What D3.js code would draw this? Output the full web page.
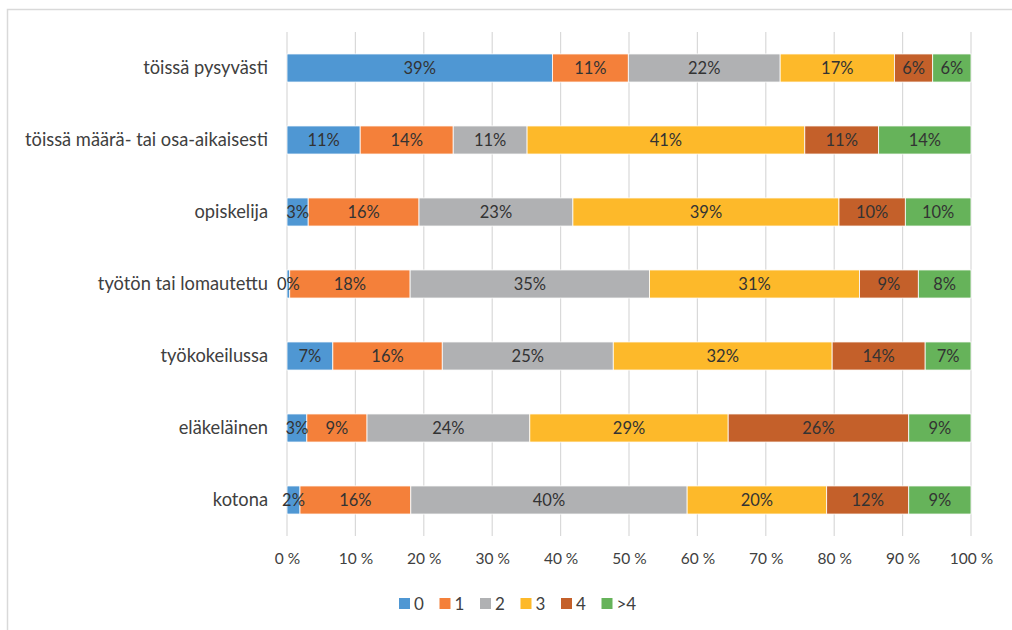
<!DOCTYPE html>
<html>
<head>
<meta charset="utf-8">
<script src="https://cdn.jsdelivr.net/npm/d3@7"></script>
<style>
  body { margin: 0; background: #fff; }
  svg text { font-family: Lato, "Open Sans", sans-serif; fill: #404040; }
</style>
</head>
<body>
<svg id="chart" width="1012" height="630"></svg>
<script>
// categories top -> bottom
const categories = [
  "töissä pysyvästi",
  "töissä määrä- tai osa-aikaisesti",
  "opiskelija",
  "työtön tai lomautettu",
  "työkokeilussa",
  "eläkeläinen",
  "kotona"
];
const seriesNames = ["0", "1", "2", "3", "4", ">4"];
const colors = ["#4f97d3", "#f4803a", "#b0b1b3", "#fdb92a", "#c4602a", "#66b35a"];

// shares per series, same order as categories
const s0 = [0.388, 0.107, 0.031, 0.004, 0.067, 0.029, 0.019];
const s1 = [0.111, 0.136, 0.162, 0.176, 0.160, 0.088, 0.162];
const s2 = [0.222, 0.108, 0.225, 0.350, 0.250, 0.238, 0.404];
const s3 = [0.167, 0.406, 0.389, 0.307, 0.320, 0.290, 0.204];
const s4 = [0.056, 0.108, 0.097, 0.086, 0.136, 0.264, 0.120];
const s5 = [0.056, 0.135, 0.096, 0.077, 0.067, 0.091, 0.091];
const seriesValues = [s0, s1, s2, s3, s4, s5];
const tickValues = [0, 0.1, 0.2, 0.3, 0.4, 0.5, 0.6, 0.7, 0.8, 0.9, 1];

const svg = d3.select("#chart");
const margin = {left: 287, right: 41, top: 32, bottom: 94};
const W = 1012, H = 630;

// outer frame
svg.append("rect")
  .attr("x", 7.5).attr("y", 9.5)
  .attr("width", W + 10).attr("height", H + 10)
  .attr("fill", "none").attr("stroke", "#d9d9d9").attr("stroke-width", 1.5);

const x = d3.scaleLinear().domain([0, 1]).range([margin.left, W - margin.right]);
const y = d3.scaleBand().domain(categories).range([margin.top, H - margin.bottom]).paddingInner(0.61).paddingOuter(0.305);

// gridlines
svg.append("g").selectAll("line").data(tickValues).join("line")
  .attr("x1", d => x(d)).attr("x2", d => x(d))
  .attr("y1", margin.top).attr("y2", H - margin.bottom)
  .attr("stroke", "#d9d9d9").attr("stroke-width", 1.2);

// stack data
const rows = categories.map((c, i) => {
  const r = {cat: c};
  seriesNames.forEach((s, j) => r[s] = seriesValues[j][i]);
  return r;
});
const stacked = d3.stack().keys(seriesNames)(rows);

svg.append("g").selectAll("g").data(stacked).join("g")
  .attr("fill", (d, i) => colors[i])
  .selectAll("rect").data(d => d).join("rect")
  .attr("x", d => x(d[0]))
  .attr("y", d => y(d.data.cat))
  .attr("width", d => x(d[1]) - x(d[0]))
  .attr("height", y.bandwidth())
  .attr("stroke", "#fff").attr("stroke-width", 0.8);

// value labels on top of all bars
svg.append("g").selectAll("g").data(stacked).join("g")
  .selectAll("text").data(d => d.map(p => ({p: p, key: d.key}))).join("text")
  .attr("x", d => (x(d.p[0]) + x(d.p[1])) / 2)
  .attr("y", d => y(d.p.data.cat) + y.bandwidth() / 2)
  .attr("dy", "0.36em")
  .attr("text-anchor", "middle")
  .attr("font-size", 16.5)
  .style("fill", "#333")
  .text(d => Math.round(d.p.data[d.key] * 100) + "%");

// category labels
svg.append("g").selectAll("text").data(categories).join("text")
  .attr("x", margin.left - 19)
  .attr("y", d => y(d) + y.bandwidth() / 2)
  .attr("dy", "0.35em")
  .attr("text-anchor", "end")
  .attr("font-size", 18.3)
  .text(d => d);

// x axis labels
const xAxis = svg.append("g")
  .attr("transform", `translate(0,${H - margin.bottom})`)
  .call(d3.axisBottom(x).tickValues(tickValues).tickSize(0).tickPadding(17)
    .tickFormat(d => Math.round(d * 100) + " %"));
xAxis.select(".domain").remove();
xAxis.selectAll("text").attr("font-size", 15.5).style("font-family", "Lato, 'Open Sans', sans-serif").style("fill", "#404040");

// legend
const legend = svg.append("g").attr("transform", "translate(399,604)");
seriesNames.forEach((s, i) => {
  const g = legend.append("g").attr("transform", `translate(${i * 40.5},0)`);
  g.append("rect").attr("x", 0).attr("y", -6).attr("width", 11).attr("height", 11).attr("fill", colors[i]);
  g.append("text").attr("x", 15).attr("dy", "0.33em").attr("font-size", 17).text(s);
});
</script>
</body>
</html>
